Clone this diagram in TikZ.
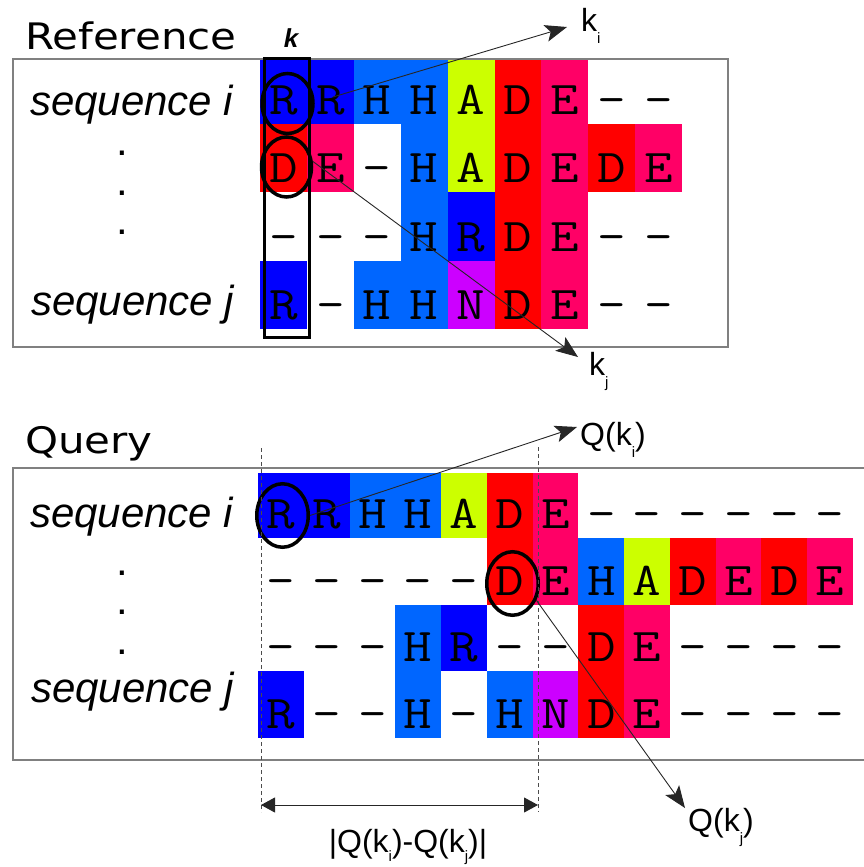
\documentclass[tikz,border=0pt]{standalone}
\usepackage{fontspec}
\usetikzlibrary{arrows.meta,shapes.geometric}
\newfontfamily\lsans{Liberation Sans}
\newfontfamily\dvsans{DejaVu Sans}
\definecolor{dkb}{HTML}{0000FF}
\definecolor{mdb}{HTML}{0066FF}
\definecolor{ygr}{HTML}{CCFF00}
\definecolor{rdd}{HTML}{FF0000}
\definecolor{pnk}{HTML}{FF0066}
\definecolor{pur}{HTML}{CC00FF}
\definecolor{boxgray}{HTML}{808080}
\tikzset{
  lett/.style={font=\fontsize{47}{47}\selectfont\ttfamily, inner sep=0pt, anchor=base},
  seqlab/.style={font=\fontsize{42}{42}\selectfont\lsans\itshape, inner sep=0pt, anchor=base west},
  dotlab/.style={font=\fontsize{42}{42}\selectfont\lsans, inner sep=0pt, anchor=base},
  ttl/.style={font=\fontsize{36.5}{36.5}\selectfont\dvsans, inner sep=0pt, anchor=base west},
  lab/.style={font=\fontsize{32}{32}\selectfont\lsans, inner sep=0pt, anchor=base west},
  ring/.style={ellipse, draw=black, line width=3.5pt, inner sep=0pt},
  frame/.style={draw=boxgray, line width=1.3pt},
  arr/.style={draw=black!85, line width=0.9pt, -{Stealth[length=22pt,width=17pt,inset=5pt]}},
  guide/.style={draw=black!70, line width=0.9pt, dash pattern=on 4pt off 3pt},
  meas/.style={draw=black!85, line width=0.9pt, {Triangle[length=14pt,width=15pt]}-{Triangle[length=14pt,width=15pt]}},
}
\newcommand\sbs[1]{\raisebox{-12pt}{\fontsize{15}{15}\selectfont #1}}
\newcommand\sbsb[1]{\raisebox{-9pt}{\fontsize{15}{15}\selectfont #1}}
\newcommand\cellrow[6]{%
  \foreach \ch/\cl [count=\c from 0] in {#6} {
    \fill[fill=\cl] ({#2+#3*\c},#4) rectangle ({#2+#3*(\c+1)},#5);
    \node[lett] (#1-\c) at ({#2+#3*(\c+0.5)},{#5-10}) {\scalebox{1.18}[1]{\ch}};
  }}
\begin{document}
\begin{tikzpicture}[x=1pt,y=-1pt]
\useasboundingbox (0,0) rectangle (863,867);
% ---------- Reference ----------
\draw[frame] (13,59) rectangle (728,347);
\cellrow{T1}{260}{46.9}{60}{124}{R/dkb,R/dkb,H/mdb,H/mdb,A/ygr,D/rdd,E/pnk,–/white,–/white}
\cellrow{T2}{260}{46.9}{124}{192}{D/rdd,E/pnk,–/white,H/mdb,A/ygr,D/rdd,E/pnk,D/rdd,E/pnk}
\cellrow{T3}{260}{46.9}{192}{261}{–/white,–/white,–/white,H/mdb,R/dkb,D/rdd,E/pnk,–/white,–/white}
\cellrow{T4}{260}{46.9}{261}{329}{R/dkb,–/white,H/mdb,H/mdb,N/pur,D/rdd,E/pnk,–/white,–/white}
\node[draw=black, line width=3pt, minimum width=45pt, minimum height=278pt, inner sep=0pt] (kcol) at (286.5,198) {};
\node[ring, minimum width=51pt, minimum height=60pt] (cA) at (287.5,103.5) {};
\node[ring, minimum width=50pt, minimum height=60pt] (cB) at (286.5,167) {};
\node[ttl] (tref) at (25,50) {\scalebox{1.15}[1]{Reference}};
\node[font=\fontsize{26}{26}\selectfont\lsans\bfseries\itshape, anchor=base, inner sep=0pt] (klab) at (291,48) {k};
\node[seqlab] (si1) at (30,115) {sequence i};
\node[seqlab] (sj1) at (31,315) {sequence j};
\node[dotlab] (d11) at (122,155) {.};
\node[dotlab] (d12) at (122,195) {.};
\node[dotlab] (d13) at (122,234) {.};
\coordinate (kiS) at (333,97);
\coordinate (kiT) at (567,27);
\coordinate (kjT) at (578,357);
\draw[arr] (kiS) -- (kiT);
\draw[arr] (cB.12) -- (kjT);
\node[lab] (ki) at (581,32) {k\sbs{i}};
\node[lab] (kj) at (589,375) {k\sbs{j}};
% ---------- Query ----------
\draw[frame] (870,468) -- (13,468) -- (13,760) -- (870,760);
\cellrow{B1}{258}{45.77}{473}{538}{R/dkb,R/dkb,H/mdb,H/mdb,A/ygr,D/rdd,E/pnk,–/white,–/white,–/white,–/white,–/white,–/white}
\cellrow{B2}{258}{45.77}{538}{605}{–/white,–/white,–/white,–/white,–/white,D/rdd,E/pnk,H/mdb,A/ygr,D/rdd,E/pnk,D/rdd,E/pnk}
\cellrow{B3}{258}{45.77}{605}{671}{–/white,–/white,–/white,H/mdb,R/dkb,–/white,–/white,D/rdd,E/pnk,–/white,–/white,–/white,–/white}
\cellrow{B4}{258}{45.77}{671}{738}{R/dkb,–/white,–/white,H/mdb,–/white,H/mdb,N/pur,D/rdd,E/pnk,–/white,–/white,–/white,–/white}
\node[ring, minimum width=51.5pt, minimum height=63.5pt] (cC) at (282.5,515.5) {};
\node[ring, minimum width=51.5pt, minimum height=63.5pt] (cD) at (512.5,583.5) {};
\node[ttl] (tq) at (25,453) {\scalebox{1.15}[1]{Query}};
\node[seqlab] (si2) at (30,527) {sequence i};
\node[seqlab] (sj2) at (31,702) {sequence j};
\node[dotlab] (d21) at (122,575) {.};
\node[dotlab] (d22) at (122,614) {.};
\node[dotlab] (d23) at (122,654) {.};
\coordinate (g1t) at (261,448);
\coordinate (g1b) at (261,812);
\coordinate (g2t) at (538,447);
\coordinate (g2b) at (538,812);
\draw[guide] (g1t) -- (g1b);
\draw[guide] (g2t) -- (g2b);
\coordinate (mL) at (261,805);
\coordinate (mR) at (538,805);
\draw[meas] (mL) -- (mR);
\coordinate (QiT) at (577,427);
\coordinate (QjT) at (685,808);
\draw[arr] (cC.east) -- (QiT);
\draw[arr] (cD.-35) -- (QjT);
\node[lab] (Qi) at (580,445) {Q(k\sbs{i})};
\node[lab] (Qj) at (688,831) {Q(k\sbs{j})};
\node[lab, anchor=base] (dQ) at (408,852) {|Q(k\sbsb{i})-Q(k\sbsb{j})|};
\end{tikzpicture}
\end{document}
